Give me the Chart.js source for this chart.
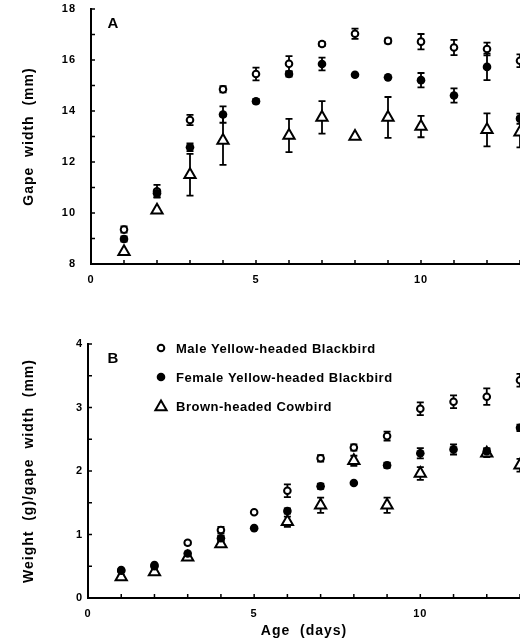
<!DOCTYPE html>
<html>
<head>
<meta charset="utf-8">
<script src="https://cdn.jsdelivr.net/npm/chart.js@4"></script>
<style>
  body { margin: 0; background: #fff; width: 520px; height: 644px; overflow: hidden; }
  .wrap { position: relative; width: 520px; height: 644px; }
  canvas { position: absolute; left: 0; }
</style>
</head>
<body>
<div class="wrap">
  <canvas id="chartA" width="520" height="300" style="top:0"></canvas>
  <canvas id="chartB" width="520" height="344" style="top:300px"></canvas>
</div>
<script>
// nestling age in days
const days = [1, 2, 3, 4, 5, 6, 7, 8, 9, 10, 11, 12, 13];
const seriesNames = ['Male Yellow-headed Blackbird', 'Female Yellow-headed Blackbird', 'Brown-headed Cowbird'];

// panel A: gape width (mm), mean and error
const maleGape = [9.35, 10.85, 13.65, 14.85, 15.45, 15.85, 16.63, 17.03, 16.75, 16.72, 16.49, 16.43, 15.97];
const maleGapeErr = [0.12, 0.25, 0.2, 0.12, 0.25, 0.3, 0.08, 0.2, 0.1, 0.3, 0.3, 0.25, 0.25];
const femaleGape = [8.98, 10.77, 12.58, 13.86, 14.38, 15.45, 15.84, 15.42, 15.32, 15.21, 14.61, 15.73, 13.7];
const femaleGapeErr = [0.1, 0.15, 0.15, 0.32, 0.08, 0.1, 0.25, 0, 0, 0.28, 0.28, 0.52, 0.2];
const cowbirdGape = [8.48, 10.11, 11.5, 12.84, null, 13.04, 13.75, 13.0, 13.75, 13.39, null, 13.26, 13.17];
const cowbirdGapeErr = [0, 0, 0.82, 0.95, null, 0.65, 0.64, 0, 0.8, 0.42, null, 0.65, 0.6];

// panel B: weight (g) / gape width (mm)
const maleWeight = [0.43, 0.5, 0.87, 1.07, 1.35, 1.69, 2.2, 2.37, 2.55, 2.98, 3.09, 3.17, 3.43];
const maleWeightErr = [0, 0, 0.03, 0.05, 0, 0.1, 0.05, 0.05, 0.07, 0.1, 0.1, 0.13, 0.1];
const femaleWeight = [0.44, 0.52, 0.7, 0.94, 1.1, 1.37, 1.76, 1.81, 2.09, 2.28, 2.34, 2.31, 2.68];
const femaleWeightErr = [0, 0, 0, 0.04, 0, 0.04, 0.04, 0, 0.04, 0.08, 0.08, 0.05, 0.05];
const cowbirdWeight = [0.33, 0.41, 0.64, 0.85, null, 1.2, 1.46, 2.16, 1.46, 1.96, null, 2.28, 2.09];
const cowbirdWeightErr = [0.03, 0.03, 0.04, 0.04, null, 0.08, 0.12, 0.08, 0.12, 0.1, null, 0.06, 0.1];

const FONT = "'Liberation Sans', Arial, Helvetica, sans-serif";

function points(vals, errs) {
  return days.map((d, i) => ({ x: d, y: vals[i], err: errs[i] })).filter(p => p.y !== null);
}

// marker styles, in legend order
const markStyles = [
  { pointStyle: 'circle', pointRadius: 3.3, pointBorderWidth: 2, pointBackgroundColor: '#fff', order: 1 },
  { pointStyle: 'circle', pointRadius: 4.3, pointBorderWidth: 0, pointBackgroundColor: '#000', order: 0 },
  { pointStyle: 'triangle', pointRadius: 6.5, pointBorderWidth: 2, pointBackgroundColor: '#fff', order: 2 }
];

function makeDatasets(sets) {
  return sets.map((s, i) => Object.assign({
    label: seriesNames[i],
    data: points(s[0], s[1]),
    pointBorderColor: '#000',
    pointHoverRadius: markStyles[i].pointRadius,
    showLine: false,
    clip: false
  }, markStyles[i]));
}

function drawMark(ctx, st, x, y) {
  ctx.save();
  ctx.lineWidth = st.pointBorderWidth;
  ctx.strokeStyle = '#000';
  ctx.fillStyle = st.pointBackgroundColor;
  ctx.beginPath();
  const r = st.pointRadius;
  if (st.pointStyle === 'triangle') {
    for (let k = 0; k < 3; k++) {
      const a = k * 2 * Math.PI / 3;
      const px = x + Math.sin(a) * r, py = y - Math.cos(a) * r;
      k === 0 ? ctx.moveTo(px, py) : ctx.lineTo(px, py);
    }
    ctx.closePath();
  } else {
    ctx.arc(x, y, r, 0, Math.PI * 2);
  }
  ctx.fill();
  if (st.pointBorderWidth) ctx.stroke();
  ctx.restore();
}

const decor = {
  id: 'decor',
  beforeDraw(chart) {
    chart.ctx.letterSpacing = '1px';
  },
  beforeDatasetsDraw(chart) {
    // error bars, under the markers
    const ctx = chart.ctx;
    const xs = chart.scales.x, ys = chart.scales.y;
    ctx.save();
    ctx.letterSpacing = '0px';
    ctx.strokeStyle = '#000';
    ctx.lineWidth = 1.8;
    chart.data.datasets.forEach(ds => {
      ds.data.forEach(p => {
        if (!p.err) return;
        const x = xs.getPixelForValue(p.x);
        const y1 = ys.getPixelForValue(p.y + p.err);
        const y2 = ys.getPixelForValue(p.y - p.err);
        ctx.beginPath();
        ctx.moveTo(x, y1); ctx.lineTo(x, y2);
        ctx.moveTo(x - 3.5, y1); ctx.lineTo(x + 3.5, y1);
        ctx.moveTo(x - 3.5, y2); ctx.lineTo(x + 3.5, y2);
        ctx.stroke();
      });
    });
    ctx.restore();
  },
  afterDraw(chart, args, opts) {
    const ctx = chart.ctx;
    const xs = chart.scales.x, ys = chart.scales.y;
    const area = chart.chartArea;
    ctx.save();
    ctx.letterSpacing = '0px';
    // inward tick marks
    ctx.strokeStyle = '#000';
    ctx.lineWidth = 1.5;
    ctx.beginPath();
    xs.ticks.forEach(t => {
      const x = xs.getPixelForValue(t.value);
      ctx.moveTo(x, area.bottom); ctx.lineTo(x, area.bottom - 4);
    });
    ys.ticks.forEach(t => {
      const y = ys.getPixelForValue(t.value);
      ctx.moveTo(area.left, y); ctx.lineTo(area.left + 4, y);
    });
    ctx.stroke();
    // panel letter
    ctx.fillStyle = '#000';
    ctx.font = 'bold 15px ' + FONT;
    ctx.textAlign = 'center';
    ctx.textBaseline = 'middle';
    ctx.fillText(opts.letter, opts.letterX, opts.letterY);
    // legend
    if (opts.legend) {
      ctx.font = 'bold 13px ' + FONT;
      ctx.letterSpacing = '0.5px';
      ctx.textAlign = 'left';
      seriesNames.forEach((name, i) => {
        const y = opts.legendY + i * 29;
        drawMark(ctx, markStyles[i], opts.legendX, y + (i === 2 ? 1 : 0));
        ctx.fillText(name, opts.legendX + 15, y + 1);
      });
    }
    ctx.restore();
    ctx.letterSpacing = '0px';
  }
};

function makeChart(id, sets, cfg) {
  return new Chart(document.getElementById(id), {
    type: 'scatter',
    data: { datasets: makeDatasets(sets) },
    plugins: [decor],
    options: {
      responsive: false,
      animation: false,
      events: [],
      layout: { autoPadding: false, padding: { top: cfg.padTop, right: 0, left: 0, bottom: 0 } },
      plugins: {
        legend: { display: false },
        tooltip: { enabled: false },
        decor: cfg.decor
      },
      scales: {
        x: {
          type: 'linear', min: 0, max: 13,
          grid: { drawOnChartArea: false, drawTicks: false },
          border: { color: '#000', width: 2 },
          ticks: {
            stepSize: 1, autoSkip: false, maxRotation: 0, color: '#000', padding: 9,
            font: { family: FONT, size: 11, weight: 'bold' },
            callback: v => (v % 5 === 0 ? v : '')
          },
          title: cfg.xTitle ? {
            display: true, text: cfg.xTitle, color: '#000',
            font: { family: FONT, size: 14, weight: 'bold' },
            padding: { top: 0, bottom: 4 }
          } : { display: false },
          afterFit: s => { s.height = cfg.xHeight; s.paddingLeft = 0; s.paddingRight = 0; }
        },
        y: {
          type: 'linear', min: cfg.yMin, max: cfg.yMax,
          grid: { drawOnChartArea: false, drawTicks: false },
          border: { color: '#000', width: 2 },
          ticks: {
            stepSize: cfg.yStep, color: '#000', padding: cfg.yPad,
            font: { family: FONT, size: 11, weight: 'bold' },
            callback: v => (Math.abs(v % cfg.yLabelStep) < 1e-9 ? v : '')
          },
          title: {
            display: true, text: cfg.yTitle, color: '#000',
            font: { family: FONT, size: 14, weight: 'bold' },
            padding: { top: 21, bottom: 0 }
          },
          afterFit: s => { s.width = cfg.yWidth; s.paddingTop = 0; s.paddingBottom = 0; }
        }
      }
    }
  });
}

makeChart('chartA',
  [[maleGape, maleGapeErr], [femaleGape, femaleGapeErr], [cowbirdGape, cowbirdGapeErr]],
  {
    padTop: 9, xHeight: 36, yWidth: 91, yPad: 15,
    yMin: 8, yMax: 18, yStep: 1, yLabelStep: 2,
    yTitle: 'Gape  width  (mm)',
    decor: { letter: 'A', letterX: 113, letterY: 24 }
  });

makeChart('chartB',
  [[maleWeight, maleWeightErr], [femaleWeight, femaleWeightErr], [cowbirdWeight, cowbirdWeightErr]],
  {
    padTop: 44, xHeight: 46, yWidth: 88, yPad: 5,
    yMin: 0, yMax: 4, yStep: 0.5, yLabelStep: 1,
    yTitle: 'Weight  (g)/gape  width  (mm)',
    xTitle: 'Age  (days)',
    decor: { letter: 'B', letterX: 113, letterY: 59, legend: true, legendX: 161, legendY: 48 }
  });
</script>
</body>
</html>
